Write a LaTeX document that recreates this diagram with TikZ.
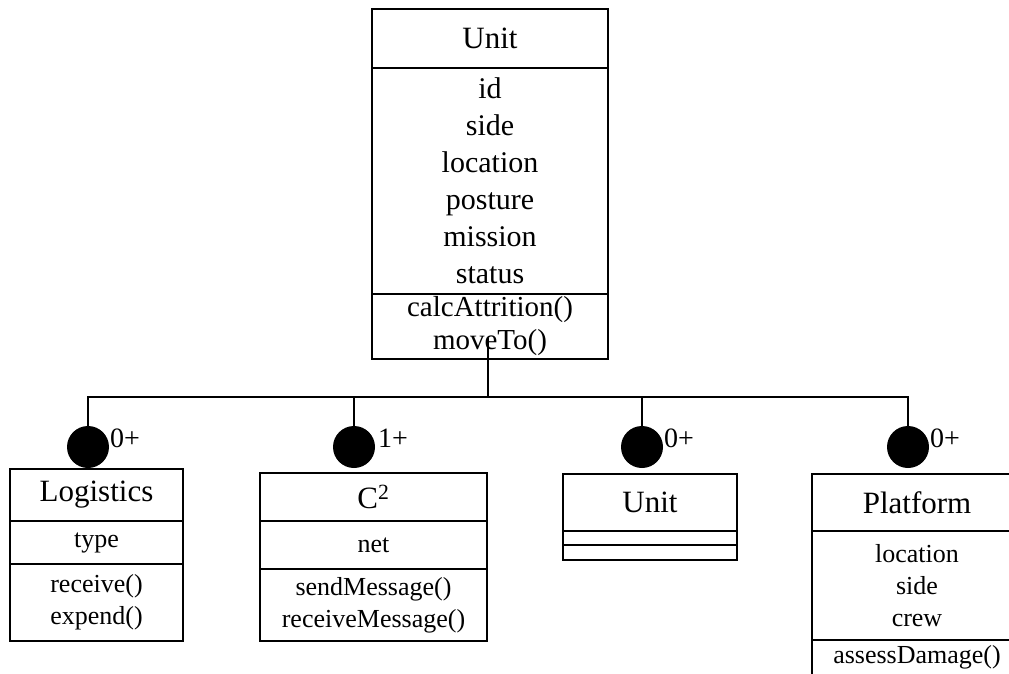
\documentclass[tikz,border=0pt]{standalone}
\usepackage{fontspec}
\setmainfont{Liberation Serif}
\newcommand{\titlefont}{\fontsize{31}{37}\selectfont}
\newcommand{\bigbody}{\fontsize{30}{37}\selectfont}
\newcommand{\opsbody}{\fontsize{29}{33}\selectfont\lineskiplimit=-100pt}
\newcommand{\smallbody}{\fontsize{26}{32}\selectfont\lineskiplimit=-100pt}
\tikzset{
  x=1pt, y=-1pt,
  compart/.style={draw, line width=2pt, inner sep=0pt, align=center, anchor=north},
  ball/.style={circle, fill=black, minimum size=42pt, inner sep=0pt},
  mult/.style={anchor=base west, inner sep=0pt, font=\fontsize{28}{30}\selectfont},
  link/.style={line width=2pt}
}
\begin{document}
\begin{tikzpicture}
\useasboundingbox (0,0) rectangle (1009,674);
\clip (0,0) rectangle (1009,674);

% parent class
\node[compart, minimum width=236pt, minimum height=59pt, font=\titlefont] (uName) at (490,8) {Unit};
\node[compart, minimum width=236pt, minimum height=226pt, font=\bigbody] (uAttr) at (490,67)
  {id\\side\\location\\posture\\mission\\status};
\node[compart, minimum width=236pt, minimum height=65pt, font=\opsbody] (uOps) at (490,293)
  {calcAttrition()\\moveTo()};

% Logistics
\node[compart, minimum width=173pt, minimum height=52pt, font=\titlefont] (lName) at (96.5,468) {Logistics};
\node[compart, minimum width=173pt, minimum height=43pt, font=\smallbody] (lAttr) at (96.5,520) {type};
\node[compart, minimum width=173pt, minimum height=77pt, font=\smallbody] (lOps) at (96.5,563) {receive()\\expend()};

% C2
\node[compart, minimum width=227pt, minimum height=48pt, font=\titlefont] (cName) at (373.5,472) {C\textsuperscript{2}};
\node[compart, minimum width=227pt, minimum height=48pt, font=\smallbody] (cAttr) at (373.5,520) {net};
\node[compart, minimum width=227pt, minimum height=72pt, font=\smallbody] (cOps) at (373.5,568)
  {sendMessage()\\receiveMessage()};

% nested Unit
\node[compart, minimum width=174pt, minimum height=57pt, font=\titlefont] (nName) at (650,473) {Unit};
\node[compart, minimum width=174pt, minimum height=14pt] (nAttr) at (650,530) {};
\node[compart, minimum width=174pt, minimum height=15pt] (nOps) at (650,544) {};

% Platform
\node[compart, minimum width=210pt, minimum height=57pt, font=\titlefont] (pName) at (917,473) {Platform};
\node[compart, minimum width=210pt, minimum height=109pt, font=\smallbody] (pAttr) at (917,530) {location\\side\\crew};
\node[compart, minimum width=210pt, minimum height=40pt, text depth=12pt, font=\smallbody] (pOps) at (917,639) {assessDamage()};

% aggregation ends
\node[ball] (b1) at (88,447) {};
\node[ball] (b2) at (354,447) {};
\node[ball] (b3) at (642,447) {};
\node[ball] (b4) at (908,447) {};

\node[mult] (m1) at (110,447) {0+};
\node[mult] (m2) at (378,447) {1+};
\node[mult] (m3) at (664,447) {0+};
\node[mult] (m4) at (930,447) {0+};

% connectors
\coordinate (stem) at (488,338);
\coordinate (bus) at (488,397);
\draw[link] (stem) -- (bus);
\draw[link] (bus) -| (b1.north);
\draw[link] (bus) -| (b2.north);
\draw[link] (bus) -| (b3.north);
\draw[link] (bus) -| (b4.north);
\end{tikzpicture}
\end{document}
